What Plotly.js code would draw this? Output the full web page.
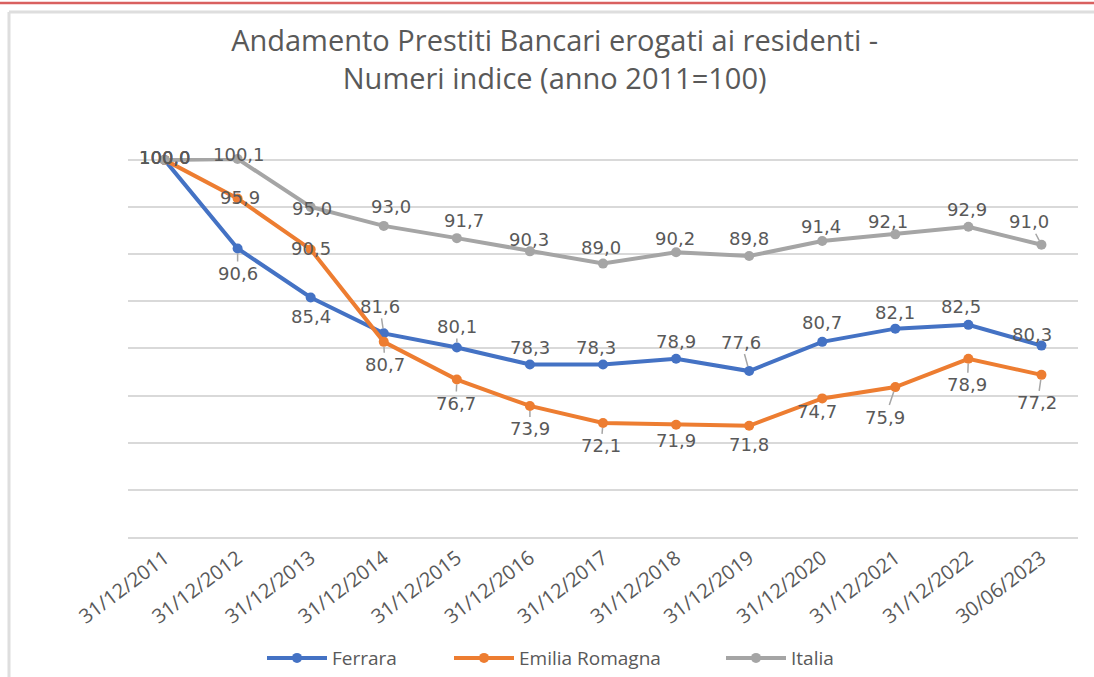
<!DOCTYPE html>
<html>
<head>
<meta charset="utf-8">
<script src="https://cdn.plot.ly/plotly-3.0.1.min.js"></script>
<style>
  html, body { margin: 0; padding: 0; background: #ffffff; }
  #chart { width: 1094px; height: 677px; }
</style>
</head>
<body>
<div id="chart"></div>
<script>
// ---- data ----
const categories = ['31/12/2011','31/12/2012','31/12/2013','31/12/2014','31/12/2015','31/12/2016','31/12/2017','31/12/2018','31/12/2019','31/12/2020','31/12/2021','31/12/2022','30/06/2023'];
const ferrara = [100.0, 90.6, 85.4, 81.6, 80.1, 78.3, 78.3, 78.9, 77.6, 80.7, 82.1, 82.5, 80.3];
const emiliaRomagna = [100.0, 95.9, 90.5, 80.7, 76.7, 73.9, 72.1, 71.9, 71.8, 74.7, 75.9, 78.9, 77.2];
const italia = [100.0, 100.1, 95.0, 93.0, 91.7, 90.3, 89.0, 90.2, 89.8, 91.4, 92.1, 92.9, 91.0];
const seriesNames = ['Ferrara', 'Emilia Romagna', 'Italia'];

// ---- styling / label placement (pixels) ----
const colors = ['#4472C4', '#ED7D31', '#A5A5A5'];
const legendIds = ['legend', 'legend2', 'legend3'];
const legendLeft = [262, 449, 721];
const labelOffsets = [
  [[0,-2],[0,25],[0,19],[-4,-27],[0,-21],[0,-17],[-7,-17],[0,-17],[-8,-29],[0,-19],[0,-16],[-7,-18],[-9,-11]],
  [[0,-2],[2,-1],[0,-1],[1,23],[-1,24],[0,23],[-2,23],[0,16],[0,19],[-5,13],[-10,30],[-1,26],[-4,28]],
  [[0,-2],[1,-4],[1,1],[7,-19],[7,-18],[-1,-12],[-2,-16],[-1,-14],[0,-18],[-1,-14],[-7,-13],[-1,-17],[-12,-23]]
];
const leaders = [
  [0,1,0,1,1,0,0,0,1,0,0,0,0],
  [0,0,0,1,1,1,1,0,0,0,1,1,1],
  [0,0,0,0,0,0,0,0,0,0,0,0,1]
];

const allSeries = [ferrara, emiliaRomagna, italia];
const textColor = '#595959';

const traces = allSeries.map((vals, i) => ({
  type: 'scatter',
  mode: 'lines+markers',
  name: seriesNames[i],
  legend: legendIds[i],
  x: categories,
  y: vals,
  line: { color: colors[i], width: 4 },
  marker: { color: colors[i], size: 10 },
  cliponaxis: false,
  hoverinfo: 'x+y+name'
}));

const annotations = [];
allSeries.forEach((vals, i) => {
  vals.forEach((v, j) => {
    const off = labelOffsets[i][j];
    annotations.push({
      x: categories[j], y: v, xref: 'x', yref: 'y',
      text: v.toFixed(1).replace('.', ','),
      showarrow: true,
      ax: off[0], ay: off[1],
      arrowhead: 0, arrowwidth: 1.5,
      arrowcolor: leaders[i][j] ? '#A6A6A6' : 'rgba(0,0,0,0)',
      standoff: 5,
      font: { family: 'DejaVu Sans', size: 18, color: textColor }
    });
  });
});

const TOP = 158, BOTTOM = 537, LEFT = 128;
const px = (p) => (p - LEFT) / 950;
const py = (p) => (BOTTOM - p) / (BOTTOM - TOP);

const legendBase = {
  orientation: 'h',
  xref: 'container', xanchor: 'left',
  yref: 'container', y: 0.028, yanchor: 'middle',
  itemwidth: 60,
  font: { family: 'Open Sans', size: 19, color: textColor },
  bgcolor: 'rgba(0,0,0,0)'
};

const layout = {
  width: 1094,
  height: 677,
  paper_bgcolor: '#ffffff',
  plot_bgcolor: '#ffffff',
  margin: { l: LEFT, r: 16, t: TOP, b: 677 - BOTTOM, pad: 0 },
  title: {
    text: 'Andamento Prestiti Bancari erogati ai residenti -<br>Numeri indice (anno 2011=100)',
    font: { family: 'Open Sans', size: 29, color: textColor },
    x: 0.507, xanchor: 'center', xref: 'container',
    y: 0.924, yanchor: 'top', yref: 'container'
  },
  showlegend: true,
  legend: Object.assign({}, legendBase, { x: legendLeft[0] / 1094 }),
  legend2: Object.assign({}, legendBase, { x: legendLeft[1] / 1094 }),
  legend3: Object.assign({}, legendBase, { x: legendLeft[2] / 1094 }),
  xaxis: {
    type: 'category',
    range: [-0.5, 12.5],
    showgrid: false,
    showline: true, linecolor: '#D9D9D9', linewidth: 1.5,
    ticks: '',
    tickangle: -37,
    tickfont: { family: 'Open Sans', size: 20, color: textColor },
    zeroline: false,
    fixedrange: true
  },
  yaxis: {
    range: [60, 100.2],
    tick0: 60, dtick: 5,
    showticklabels: false,
    showgrid: true, gridcolor: '#D9D9D9', gridwidth: 1.5,
    zeroline: false,
    showline: false,
    ticks: '',
    fixedrange: true
  },
  annotations: annotations,
  shapes: [
    { type: 'line', xref: 'paper', yref: 'paper', x0: px(0), x1: px(1094), y0: py(3), y1: py(3),
      line: { color: '#D9605F', width: 2.5 }, layer: 'above' },
    { type: 'line', xref: 'paper', yref: 'paper', x0: px(9), x1: px(1094), y0: py(12), y1: py(12),
      line: { color: '#DEDEDE', width: 3 }, layer: 'below' },
    { type: 'line', xref: 'paper', yref: 'paper', x0: px(9), x1: px(9), y0: py(12), y1: py(677),
      line: { color: '#DEDEDE', width: 3 }, layer: 'below' }
  ]
};

Plotly.newPlot('chart', traces, layout, { displayModeBar: false, responsive: false });
</script>
</body>
</html>
